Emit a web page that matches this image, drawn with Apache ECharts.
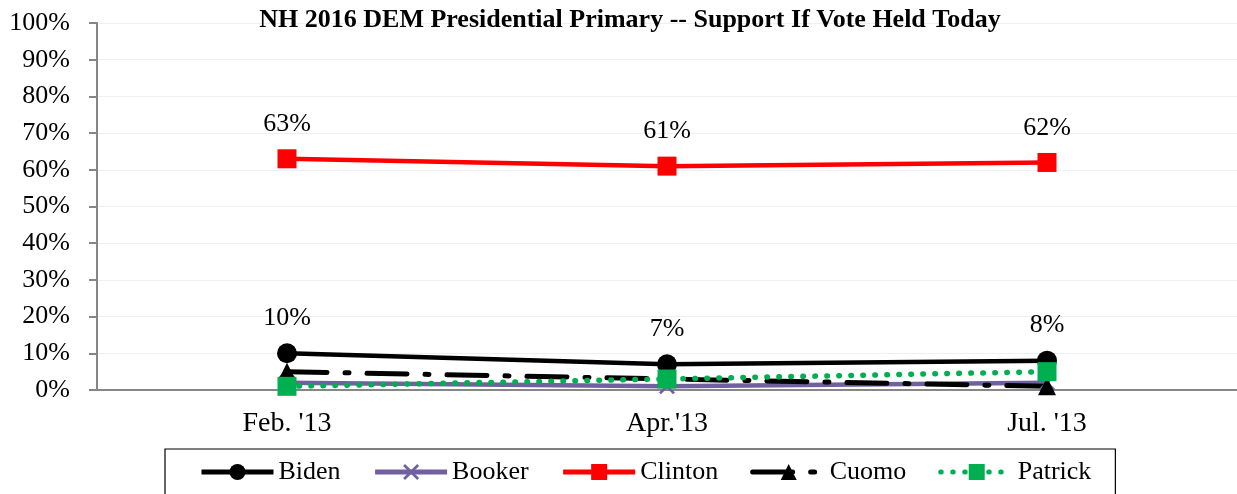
<!DOCTYPE html>
<html><head><meta charset="utf-8">
<script src="https://cdn.jsdelivr.net/npm/echarts@6/dist/echarts.min.js"></script>
<style>html,body{margin:0;padding:0;background:#fff}#c{width:1237px;height:494px}</style>
</head><body><div id="c"></div>
<script>
var categories = ["Feb. '13", "Apr.'13", "Jul. '13"];
var biden = [10, 7, 8];
var booker = [2, 1, 2];
var clinton = [63, 61, 62];
var cuomo = [5, 3, 1];
var patrick = [1, 3, 5];
var yTicks = [0, 10, 20, 30, 40, 50, 60, 70, 80, 90, 100];

var serif = "'Liberation Serif','Times New Roman',serif";
var chart = echarts.init(document.getElementById('c'));
var xPath = 'path://M0,1.2 L1.2,0 L5,3.8 L8.8,0 L10,1.2 L6.2,5 L10,8.8 L8.8,10 L5,6.2 L1.2,10 L0,8.8 L3.8,5 Z';
var lbl = {show: true, position: 'top', distance: 12, formatter: '{c}%', fontFamily: serif, fontSize: 26, color: '#000'};
chart.setOption({
  animation: false,
  title: {text: 'NH 2016 DEM Presidential Primary -- Support If Vote Held Today', left: 625, textAlign: 'center', top: 2,
    textStyle: {fontFamily: serif, fontSize: 26, fontWeight: 'bold', color: '#000'}},
  grid: {left: 97, right: 0, top: 23, bottom: 104},
  legend: {left: 165, top: 449, padding: [10, 24, 10, 34], itemGap: 32, itemWidth: 72, itemHeight: 20,
    borderColor: '#000', borderWidth: 1.2,
    lineStyle: {width: 5},
    textStyle: {fontFamily: serif, fontSize: 26, color: '#000'},
    data: ['Biden', 'Booker', 'Clinton', 'Cuomo', 'Patrick']},
  xAxis: {type: 'category', data: categories, boundaryGap: true,
    axisLine: {lineStyle: {color: '#868686', width: 2}}, axisTick: {show: false},
    axisLabel: {fontFamily: serif, fontSize: 28, color: '#000', margin: 20}},
  yAxis: {type: 'value', min: 0, max: 100, interval: 10,
    axisLine: {show: true, lineStyle: {color: '#868686', width: 2}},
    axisTick: {show: true, length: 8, lineStyle: {color: '#868686', width: 2}},
    splitLine: {lineStyle: {color: '#eeeef6', width: 1}},
    axisLabel: {fontFamily: serif, fontSize: 26, color: '#000', margin: 27, formatter: '{value}%'}},
  series: [
    {name: 'Biden', type: 'line', data: biden, symbol: 'circle', symbolSize: 20,
      itemStyle: {color: '#000'}, lineStyle: {color: '#000', width: 4.5}, label: lbl},
    {name: 'Booker', type: 'line', data: booker, symbol: xPath, symbolSize: 16,
      itemStyle: {color: '#7160a0'}, lineStyle: {color: '#7160a0', width: 4.5}},
    {name: 'Clinton', type: 'line', data: clinton, symbol: 'rect', symbolSize: 19,
      itemStyle: {color: '#ff0000'}, lineStyle: {color: '#ff0000', width: 4.5}, label: lbl},
    {name: 'Cuomo', type: 'line', data: cuomo, symbol: 'triangle', symbolSize: 18,
      itemStyle: {color: '#000'}, lineStyle: {color: '#000', width: 5, type: [40, 18, 4, 18], cap: 'round'}},
    {name: 'Patrick', type: 'line', data: patrick, symbol: 'rect', symbolSize: 19,
      itemStyle: {color: '#00b050'}, lineStyle: {color: '#00b050', width: 5.5, type: [0.5, 11.5], cap: 'round'}}
  ]
});
</script></body></html>
